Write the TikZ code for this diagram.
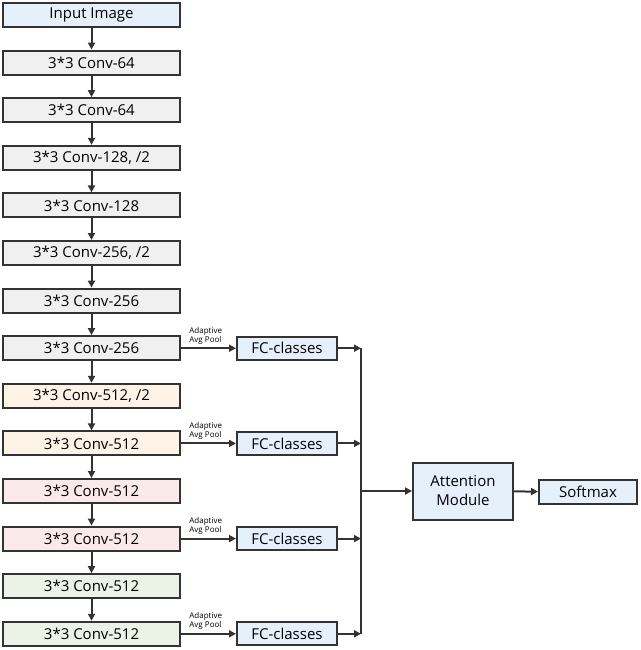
\documentclass[tikz,border=0pt]{standalone}
\usepackage{fontspec}
\setmainfont{Open Sans}
\usetikzlibrary{arrows.meta}
\definecolor{cgray}{HTML}{F0F0F0}
\definecolor{corange}{HTML}{FDF3E6}
\definecolor{cpink}{HTML}{FAEAEA}
\definecolor{cgreen}{HTML}{EAF3E5}
\definecolor{cblue}{HTML}{E6F0FB}
\definecolor{cline}{HTML}{333333}
\tikzset{
  box/.style={draw=cline,line width=2pt,minimum width=177pt,minimum height=24pt,inner sep=0pt,font=\fontsize{15}{17}\selectfont},
  fcbox/.style={box,fill=cblue,minimum width=100pt,minimum height=23pt},
  arr/.style={draw=cline,line width=2pt,-{Triangle[length=7pt,width=7pt]}},
  lbl/.style={font=\fontsize{8}{9}\selectfont,align=left,inner sep=0pt}
}
\begin{document}
\begin{tikzpicture}[x=1pt,y=-1pt]
\useasboundingbox (0,0) rectangle (640,650);
\def\sp{47.6}
\node[box,fill=cblue] (n0) at (91.5,15) {Input Image};
\node[box,fill=cgray] (n1) at (91.5,15+\sp) {3*3 Conv-64};
\node[box,fill=cgray] (n2) at (91.5,15+2*\sp) {3*3 Conv-64};
\node[box,fill=cgray] (n3) at (91.5,15+3*\sp) {3*3 Conv-128, /2};
\node[box,fill=cgray] (n4) at (91.5,15+4*\sp) {3*3 Conv-128};
\node[box,fill=cgray] (n5) at (91.5,15+5*\sp) {3*3 Conv-256, /2};
\node[box,fill=cgray] (n6) at (91.5,15+6*\sp) {3*3 Conv-256};
\node[box,fill=cgray] (n7) at (91.5,15+7*\sp) {3*3 Conv-256};
\node[box,fill=corange] (n8) at (91.5,15+8*\sp) {3*3 Conv-512, /2};
\node[box,fill=corange] (n9) at (91.5,15+9*\sp) {3*3 Conv-512};
\node[box,fill=cpink] (n10) at (91.5,15+10*\sp) {3*3 Conv-512};
\node[box,fill=cpink] (n11) at (91.5,15+11*\sp) {3*3 Conv-512};
\node[box,fill=cgreen] (n12) at (91.5,15+12*\sp) {3*3 Conv-512};
\node[box,fill=cgreen] (n13) at (91.5,15+13*\sp) {3*3 Conv-512};
\foreach \a [count=\b from 1] in {0,...,12} { \draw[arr] (n\a) -- (n\b); }
\foreach \r/\k in {7/a,9/b,11/c,13/d} {
  \node[fcbox] (fc\k) at (287,15+\r*\sp) {FC-classes};
  \draw[arr] (n\r) -- (fc\k) node[lbl,pos=0.45,above=3pt] {Adaptive\\Avg Pool};
  \coordinate (b\k) at (361,15+\r*\sp);
  \draw[arr] (fc\k) -- (b\k);
}
\draw[cline,line width=2pt] (ba) -- (bd);
\node[box,fill=cblue,minimum width=100pt,minimum height=57pt,align=center,font=\fontsize{15}{19}\selectfont] (att) at (463,491) {Attention\\Module};
\node[box,fill=cblue,minimum width=98pt] (sm) at (588,492) {Softmax};
\coordinate (bj) at (361,491);
\draw[arr] (bj) -- (att);
\draw[arr] (att) -- (sm);
\end{tikzpicture}
\end{document}
